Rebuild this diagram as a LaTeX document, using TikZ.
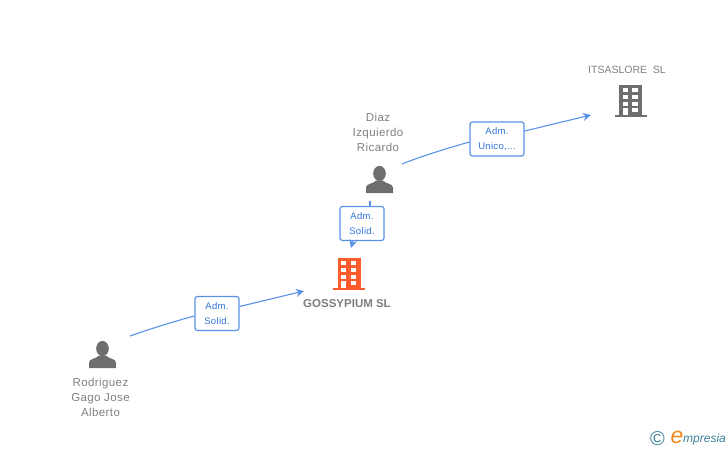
\documentclass[tikz,border=0pt]{standalone}
\usepackage{fontspec}
\setmainfont{Liberation Sans}
\newfontfamily\spacedfont[LetterSpace=3.5]{Liberation Sans}
\usepackage{xcolor}
\usetikzlibrary{arrows.meta}
\definecolor{linkblue}{HTML}{5A92E6}
\definecolor{labelblue}{HTML}{2F74D8}
\definecolor{icongray}{HTML}{6E6E6E}
\definecolor{namegray}{HTML}{7F7F7F}
\definecolor{mainorange}{HTML}{FF5A2B}
\definecolor{logoteal}{HTML}{3A7F99}
\definecolor{logoorange}{HTML}{F08A1D}
\tikzset{
  link/.style={draw=linkblue, line width=1.1pt},
  linkarrow/.style={link, -{Stealth[length=8pt, width=8pt, inset=2.5pt]}},
  rolebox/.style={draw=linkblue, line width=1.2pt, fill=white, rounded corners=2.5pt, align=center,
    text=labelblue, font=\spacedfont\fontsize{9.5}{15}\selectfont, inner sep=0pt},
  personname/.style={text=namegray, align=center, font=\spacedfont\fontsize{11.5}{15}\selectfont, inner sep=0pt},
  person/.pic={
    \fill[icongray] (0,-6) ellipse (6.3 and 7.6);
    \fill[icongray] (-13.5,13.5) -- (-13.5,8) .. controls (-13.5,4) and (-6,4.5) .. (-3.5,1) -- (3.5,1)
      .. controls (6,4.5) and (13.5,4) .. (13.5,8) -- (13.5,13.5) -- cycle;
  },
  building/.pic={
    \fill[pic actions] (-11.5,-16.5) rectangle (11.5,14);
    \fill[pic actions] (-16,13.5) rectangle (16,16);
    \foreach \ypos in {-12.7,-6,0.7} {
      \fill[white] (-7.8,\ypos) rectangle (-2.8,\ypos+4);
      \fill[white] (1.8,\ypos) rectangle (7,\ypos+4);
    }
    \fill[white] (1.8,6.7) rectangle (7,11.3);
    \fill[white] (-7.8,6.7) rectangle (-2.8,14);
  },
}
\begin{document}
\begin{tikzpicture}[x=1pt, y=-1pt]
    \useasboundingbox (0,0) rectangle (728,450);

    % icons
    \pic at (379.5,179.5) {person};
    \pic at (102.5,354.5) {person};
    \pic[fill=mainorange] at (349,274) {building};
    \pic[fill=icongray] at (630.5,101) {building};

    % names
    \node[personname] (diaz) at (378,132) {Diaz\\Izquierdo\\Ricardo};
    \node[personname] (rodriguez) at (100.5,397) {Rodriguez\\Gago Jose\\Alberto};
    \node[text=namegray, font=\fontsize{11.5}{14}\selectfont\bfseries, inner sep=0pt] (gossypium) at (347,304) {GOSSYPIUM SL};
    \node[text=namegray, font=\fontsize{10.5}{14}\selectfont, inner sep=0pt] (itsaslore) at (627,70) {ITSASLORE\ \ SL};

    % role boxes
    \node[rolebox, minimum width=44pt, minimum height=34pt] (solidleft) at (217,313.5) {Adm.\\Solid.};
    \node[rolebox, minimum width=44pt, minimum height=34pt] (solidmid) at (362,223.5) {Adm.\\Solid.};
    \node[rolebox, minimum width=54pt, minimum height=34pt] (unico) at (497,139) {Adm.\\Unico,...};

    % free ends
    \coordinate (rodriguezout) at (130,336);
    \coordinate (gossypiumin) at (304,291);
    \coordinate (diazout) at (402,164);
    \coordinate (itsaslorein) at (591,115);
    \coordinate (diazdown) at (370,201);
    \coordinate (gossypiumtop) at (351,248);

    % connectors
    \draw[link] (rodriguezout) .. controls (150,329) and (172,322) .. ([yshift=-2.5pt]solidleft.west);
    \draw[linkarrow] (solidleft.east) ++(0,-7) -- (gossypiumin);
    \draw[link] (diazout) .. controls (422,156) and (445,149) .. ([yshift=-3pt]unico.west);
    \draw[linkarrow] (unico.east) ++(0,-8) -- (itsaslorein);
    \draw[link] (diazdown) -- (diazdown |- solidmid.north);
    \draw[linkarrow] (solidmid.south) ++(-9,0) -- (gossypiumtop);

    % logo
    \node[text=logoteal, font=\fontsize{20}{20}\selectfont, inner sep=0pt] (copyr) at (657.5,438.5) {©};
    \node[text=logoorange, font=\fontsize{23}{23}\selectfont\itshape, inner sep=0pt] (logoe) at (677,437) {e};
    \node[text=logoteal, font=\fontsize{12}{12}\selectfont\itshape, inner sep=0pt, anchor=base west] (logotext) at (683,442) {mpresia};
\end{tikzpicture}
\end{document}
